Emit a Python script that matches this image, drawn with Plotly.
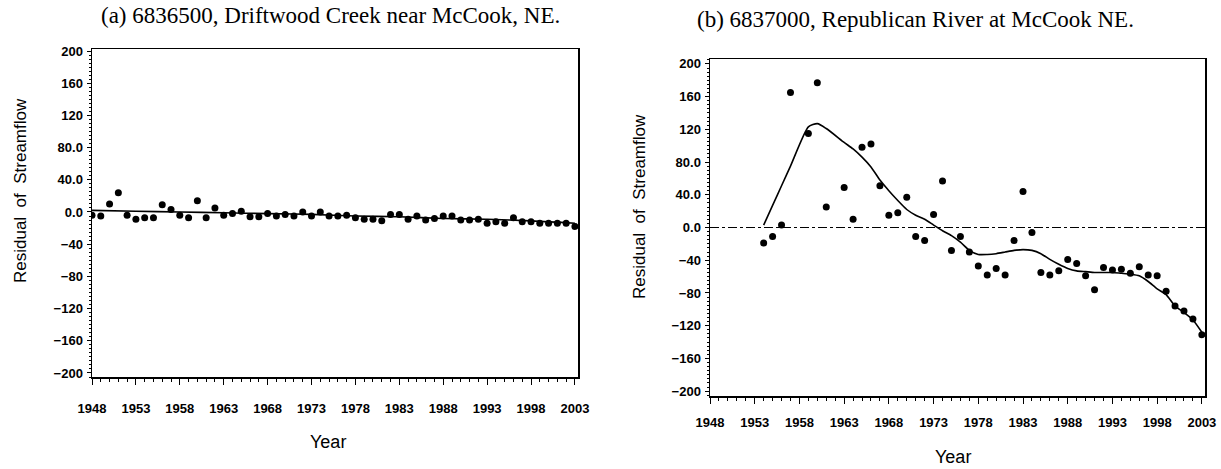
import plotly.graph_objects as go

# ---------------- data ----------------
years_a = list(range(1948, 2004))
resid_a = [-4, -5, 10, 24, -4, -9, -7, -7, 9, 3, -4, -7, 14, -7, 5, -4, -2, 1, -6, -6,
           -2, -5, -3, -5, 0, -5, 0, -5, -5,
           -4, -7, -9, -9, -11, -3, -3, -9, -5, -10, -8, -5, -5, -10, -10, -9, -14,
           -12, -14, -7, -12, -12, -14, -14, -14, -14, -18]
smooth_years_a = [1948, 1953, 1958, 1963, 1968, 1973, 1978, 1983, 1988, 1993, 1998, 2003]
smooth_a = [2, 1, 0, -1, -2, -3, -5, -6, -8, -9, -11, -14]

years_b = [1954, 1955, 1956, 1957, 1959, 1960, 1961, 1963, 1964, 1965, 1966, 1967, 1968,
           1969, 1970, 1971, 1972, 1973, 1974, 1975, 1976, 1977, 1978, 1979, 1980, 1981,
           1982, 1983, 1984, 1985, 1986, 1987, 1988, 1989, 1990, 1991, 1992, 1993, 1994,
           1995, 1996, 1997, 1998, 1999, 2000, 2001, 2002, 2003]
resid_b = [-19, -11, 3, 165, 115, 177, 25, 49, 10, 98, 102, 51, 15,
           18, 37, -11, -16, 16, 57, -28, -11, -30, -47, -58, -50, -58,
           -16, 44, -6, -55, -58, -53, -39, -44, -59, -76, -49, -52, -51,
           -56, -48, -58, -59, -78, -96, -102, -112, -131]
smooth_b = [3, 27, 51, 75, 123, 127, 121, 104, 96, 86, 74, 58, 45,
            33, 22, 15, 10, 3, -4, -10, -18, -28, -33, -33, -32, -30,
            -28, -27, -28, -32, -39, -45, -50, -53, -54, -55, -55, -55, -56,
            -57, -59, -66, -75, -82, -96, -104, -113, -128]

year_ticks = [1948, 1953, 1958, 1963, 1968, 1973, 1978, 1983, 1988, 1993, 1998, 2003]
y_ticks = [200, 160, 120, 80, 40, 0, -40, -80, -120, -160, -200]
y_ticktext = ["200", "160", "120", "80.0", "40.0", "0.0", "\u221240", "\u221280",
              "\u2212120", "\u2212160", "\u2212200"]

title_a = "(a) 6836500, Driftwood Creek near McCook, NE."
title_b = "(b) 6837000, Republican River at McCook NE."

# ---------------- figure ----------------
W, H = 1221, 469
TICKFONT = dict(family="Liberation Sans, Arial", size=13, color="black", weight="bold")

fig = go.Figure()
fig.add_trace(go.Scatter(x=years_a, y=resid_a, mode="markers",
                         marker=dict(color="black", size=7), xaxis="x", yaxis="y",
                         showlegend=False))
fig.add_trace(go.Scatter(x=smooth_years_a, y=smooth_a, mode="lines",
                         line=dict(color="black", width=1.6, shape="spline"),
                         xaxis="x", yaxis="y", showlegend=False))
fig.add_trace(go.Scatter(x=years_b, y=resid_b, mode="markers",
                         marker=dict(color="black", size=7), xaxis="x2", yaxis="y2",
                         showlegend=False))
fig.add_trace(go.Scatter(x=years_b, y=smooth_b, mode="lines",
                         line=dict(color="black", width=1.6, shape="spline", smoothing=0.6),
                         xaxis="x2", yaxis="y2", showlegend=False))

def xax(domain, anchor, rng, standoff):
    return dict(domain=domain, anchor=anchor, range=rng, tickvals=year_ticks,
                ticks="outside", ticklen=6, tickwidth=1, tickcolor="black",
                showline=True, linecolor="black", linewidth=1.5, mirror=True,
                showgrid=False, zeroline=False, tickfont=TICKFONT, automargin=False,
                ticklabelstandoff=standoff,
                minor=dict(dtick=1, tick0=1948, ticks="outside", ticklen=3,
                           tickcolor="black", showgrid=False))

def yax(domain, anchor, rng):
    return dict(domain=domain, anchor=anchor, range=rng, tickvals=y_ticks,
                ticktext=y_ticktext, ticks="outside", ticklen=4, tickwidth=1,
                tickcolor="black", showline=True, linecolor="black", linewidth=1.5,
                mirror=True, showgrid=False, zeroline=False, tickfont=TICKFONT,
                automargin=False, ticklabelstandoff=1,
                minor=dict(dtick=5, tick0=0, ticks="outside", ticklen=2,
                           tickcolor="black", showgrid=False))

fig.update_layout(
    template="none",
    width=W, height=H, margin=dict(l=0, r=0, t=0, b=0, pad=0, autoexpand=False),
    paper_bgcolor="white", plot_bgcolor="white", hovermode=False,
    xaxis=xax([92 / W, 578 / W], "y", [1948, 2003.35], 13),
    yaxis=yax([(H - 377) / H, (H - 49) / H], "x", [-205, 202.5]),
    xaxis2=xax([710 / W, 1205 / W], "y2", [1948, 2003.35], 8),
    yaxis2=yax([(H - 396) / H, (H - 59) / H], "x2", [-206, 206]),
)

fig.add_shape(type="line", xref="x2 domain", yref="y2", x0=0, x1=1, y0=0, y1=0,
              line=dict(color="black", width=1, dash="dashdot"))

def ann(text, x, y, size, family, angle=0):
    fig.add_annotation(text=text, x=x / W, y=1 - y / H, xref="paper", yref="paper",
                       showarrow=False, textangle=angle, xanchor="center",
                       yanchor="middle",
                       font=dict(family=family, size=size, color="black"))

SERIF = "Liberation Serif, Times New Roman, serif"
SANS = "Liberation Sans, Arial, sans-serif"
ann(title_a, 330, 15, 23, SERIF)
ann(title_b, 915, 20, 23, SERIF)
ann("Residual&nbsp;&nbsp;of&nbsp;&nbsp;Streamflow", 21, 191, 17, SANS, -90)
ann("Residual&nbsp;&nbsp;of&nbsp;&nbsp;Streamflow", 639, 207, 17, SANS, -90)
ann("Year", 328, 442, 18, SANS)
ann("Year", 953, 457, 18, SANS)

fig.write_html("out.html", config={"displayModeBar": False, "staticPlot": True},
               post_script="document.body.style.margin='0';document.body.style.overflow='hidden';")
